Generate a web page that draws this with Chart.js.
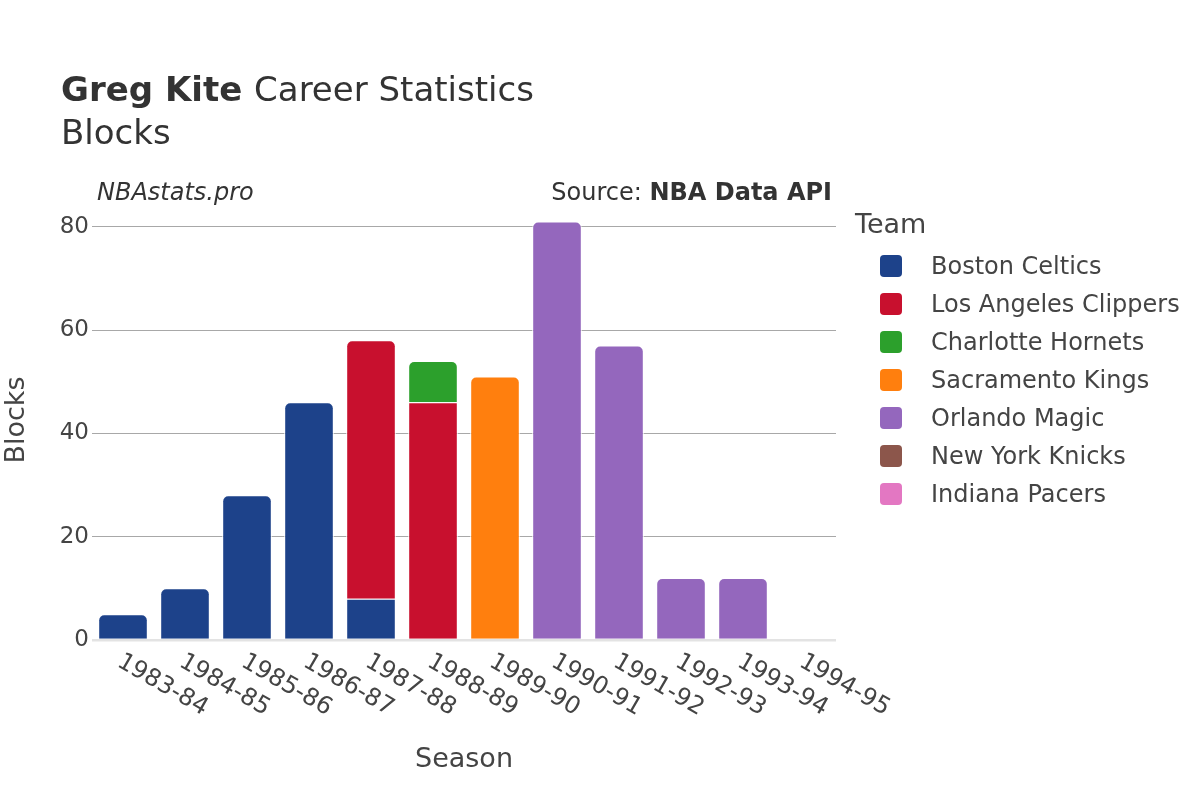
<!DOCTYPE html>
<html><head><meta charset="utf-8">
<script src="https://cdn.jsdelivr.net/npm/chart.js@4/dist/chart.umd.min.js"></script>
<style>
html,body{margin:0;padding:0;background:#fff;}
#wrap{position:relative;width:1200px;height:800px;font-family:"DejaVu Sans",sans-serif;color:#444;}
canvas{position:absolute;left:0;top:0;}
.legend{position:absolute;left:855px;top:208px;}
.legend .ttl{font-size:27px;color:#444;margin-bottom:8px;}
.item{position:absolute;left:25px;height:38px;display:flex;align-items:center;font-size:24px;color:#444;white-space:nowrap;}
.sw{width:22px;height:22px;border-radius:4px;margin-right:29px;}
</style></head>
<body><div id="wrap"><canvas id="c" width="1200" height="800"></canvas><div class="legend" id="legend"><div class="ttl">Team</div></div></div>
<script>
const seasons = ["1983-84","1984-85","1985-86","1986-87","1987-88","1988-89","1989-90","1990-91","1991-92","1992-93","1993-94","1994-95"];
const teams = ["Boston Celtics","Los Angeles Clippers","Charlotte Hornets","Sacramento Kings","Orlando Magic","New York Knicks","Indiana Pacers"];
const teamColors = ["#1d428a","#c8102e","#2ca02c","#ff7f0e","#9467bd","#8c564b","#e377c2"];
const celtics  = [5,10,28,46,8,null,null,null,null,null,null,null];
const clippers = [null,null,null,null,50,46,null,null,null,null,null,null];
const hornets  = [null,null,null,null,null,8,null,null,null,null,null,null];
const kings    = [null,null,null,null,null,null,51,null,null,null,null,null];
const magic    = [null,null,null,null,null,null,null,81,57,12,12,null];
const knicks   = [null,null,null,null,null,null,null,null,null,null,null,0];
const pacers   = [null,null,null,null,null,null,null,null,null,null,null,0];
const yTicks = [0,20,40,60,80];
const seriesData = [celtics,clippers,hornets,kings,magic,knicks,pacers];

const FONT = '"DejaVu Sans", sans-serif';

const datasets = teams.map((t,i)=>({
  label:t, data:seriesData[i], backgroundColor:teamColors[i],
  borderColor:'#ffffff', borderWidth:1, borderRadius:6, borderSkipped:'start',
  barPercentage:0.8, categoryPercentage:1.0
}));

const overlay = {
  id:'overlay',
  afterDraw(chart){
    const ctx = chart.ctx, ca = chart.chartArea, xs = chart.scales.x;
    ctx.save();
    ctx.fillStyle = '#444';
    ctx.font = '24px ' + FONT;
    ctx.textAlign = 'left'; ctx.textBaseline = 'middle';
    seasons.forEach((s,i)=>{
      const x = xs.getPixelForTick(i);
      ctx.save();
      ctx.translate(x - 4, ca.bottom + 20);
      ctx.rotate(30*Math.PI/180);
      ctx.fillText(s,0,0);
      ctx.restore();
    });
    ctx.font = '27px ' + FONT;
    ctx.textAlign='center'; ctx.textBaseline='middle';
    ctx.fillText('Season', (ca.left+ca.right)/2, 760);
    ctx.save(); ctx.translate(17, 420); ctx.rotate(-Math.PI/2);
    ctx.fillText('Blocks',0,0); ctx.restore();
    ctx.fillStyle = '#333';
    ctx.textAlign='left'; ctx.textBaseline='alphabetic';
    ctx.font = 'bold 34px ' + FONT;
    ctx.fillText('Greg Kite', 61, 101);
    const w = ctx.measureText('Greg Kite ').width;
    ctx.font = '34px ' + FONT;
    ctx.fillText('Career Statistics', 61 + w, 101);
    ctx.fillText('Blocks', 61, 144);
    ctx.font = 'italic 24px ' + FONT;
    ctx.fillText('NBAstats.pro', 97, 200);
    ctx.textAlign='right';
    ctx.font = 'bold 24px ' + FONT;
    const bw = ctx.measureText('NBA Data API').width;
    ctx.fillText('NBA Data API', 832, 200);
    ctx.font = '24px ' + FONT;
    ctx.fillText('Source: ', 832 - bw, 200);
    ctx.restore();
  }
};

new Chart(document.getElementById('c'), {
  type:'bar',
  data:{labels:seasons, datasets},
  options:{
    responsive:false, animation:false,
    layout:{padding:{left:0,right:364,top:206,bottom:0}},
    plugins:{legend:{display:false}, tooltip:{enabled:false}},
    scales:{
      x:{stacked:true, grid:{display:false}, border:{display:false},
         ticks:{display:false},
         afterFit(s){ s.height = 160; }},
      y:{stacked:true, min:0, max:84, border:{display:false},
         afterBuildTicks(s){ s.ticks = yTicks.map(v=>({value:v})); },
         afterFit(s){ s.width = 92; },
         grid:{drawTicks:false,
           color:c=> c.tick && c.tick.value===0 ? '#e3e3e3' : '#a8a8a8',
           lineWidth:c=> c.tick && c.tick.value===0 ? 2.5 : 1},
         ticks:{font:{family:FONT,size:23}, color:'#444', padding:3}}
    }
  },
  plugins:[overlay]
});

const lg = document.getElementById('legend');
teams.forEach((t,i)=>{
  const d = document.createElement('div'); d.className='item';
  d.style.top = (39 + i*38) + 'px';
  d.innerHTML = '<div class="sw" style="background:'+teamColors[i]+'"></div><span></span>';
  d.querySelector('span').textContent = t;
  lg.appendChild(d);
});
</script></body></html>
